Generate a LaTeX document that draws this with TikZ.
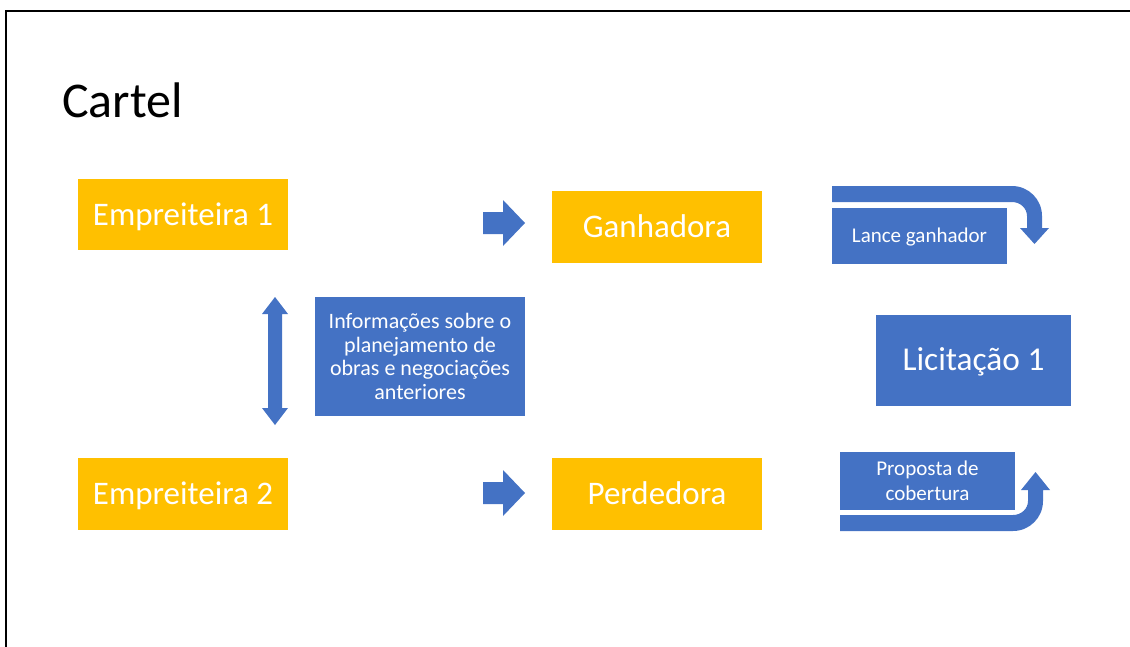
\documentclass[tikz,border=0pt]{standalone}
\usepackage{fontspec}
\setmainfont{Carlito}
\definecolor{accentblue}{HTML}{4472C4}
\definecolor{accentgold}{HTML}{FFC000}
\begin{document}
\begin{tikzpicture}[x=0.75pt,y=-0.75pt,
  box/.style={rectangle,inner sep=0pt,outer sep=0pt,draw=none,text=white,align=center},
  goldbox/.style={box,fill=accentgold,minimum width=157.5pt,
    font=\fontsize{24.7pt}{29pt}\selectfont,text height=15.9pt,text depth=0pt},
  bluebox/.style={box,fill=accentblue},
  blockarrow/.style={fill=accentblue,draw=none},
  frameline/.style={line width=2.2pt,line cap=rect,black}]
\useasboundingbox (0,0) rectangle (1130,646);

% slide frame
\draw[frameline] (6,650) -- (6,11) -- (1134,11);

% title
\node[anchor=base west,inner sep=0pt,font=\fontsize{37.5pt}{44pt}\selectfont] (title) at (62,117) {Cartel};

% contractors and outcomes
\node[goldbox,minimum height=53.25pt] (e1) at (183,214.5) {Empreiteira 1};
\node[goldbox,minimum height=54pt] (e2) at (183,494) {Empreiteira 2};
\node[goldbox,minimum height=54pt] (win) at (657,227) {Ganhadora};
\node[goldbox,minimum height=54pt] (lose) at (657,494) {Perdedora};

% shared information
\node[bluebox,minimum width=157.5pt,minimum height=89.25pt,
  font=\fontsize{16.5pt}{17.7pt}\selectfont] (info) at (420,356.5)
  {Informações sobre o\\planejamento de\\obras e negociações\\anteriores};

% tender
\node[bluebox,minimum width=146.25pt,minimum height=68.25pt,
  font=\fontsize{25pt}{29pt}\selectfont,text height=16.1pt,text depth=0pt] (bid) at (973.5,360) {Licitação 1};

% bids
\node[bluebox,minimum width=131.25pt,minimum height=42pt,
  font=\fontsize{15.75pt}{18pt}\selectfont,text height=10pt,text depth=0pt] (winbid) at (919.5,236) {Lance ganhador};
\node[bluebox,minimum width=131.25pt,minimum height=43.5pt,
  font=\fontsize{15.8pt}{18.75pt}\selectfont] (cover) at (927.5,481) {Proposta de\\cobertura};

% right-pointing block arrows
\fill[blockarrow] (483,212) -- (503,212) -- (503,200) -- (525,223) -- (503,246)
  -- (503,234) -- (483,234) -- cycle;
\fill[blockarrow] (483,482) -- (503,482) -- (503,470) -- (525,493) -- (503,516)
  -- (503,504) -- (483,504) -- cycle;

% vertical two-headed arrow
\fill[blockarrow] (275,297) -- (288,314) -- (282,314) -- (282,408) -- (288,408)
  -- (275,425) -- (262,408) -- (268,408) -- (268,314) -- (262,314) -- cycle;

% bent arrow turning down
\fill[blockarrow] (832,186) -- (1012,186) .. controls (1028.6,186) and (1042,199.4) .. (1042,216)
  -- (1042,228) -- (1049,228) -- (1034.5,244) -- (1020,228) -- (1027,228) -- (1027,216)
  .. controls (1027,208) and (1020,202) .. (1012,202) -- (832,202) -- cycle;

% bent arrow turning up
\fill[blockarrow] (840,531) -- (1013,531) .. controls (1029.6,531) and (1043,517.6) .. (1043,501)
  -- (1043,490) -- (1050,490) -- (1035.5,472) -- (1021,490) -- (1028,490) -- (1028,501)
  .. controls (1028,509) and (1021,515) .. (1013,515) -- (840,515) -- cycle;
\end{tikzpicture}
\end{document}
